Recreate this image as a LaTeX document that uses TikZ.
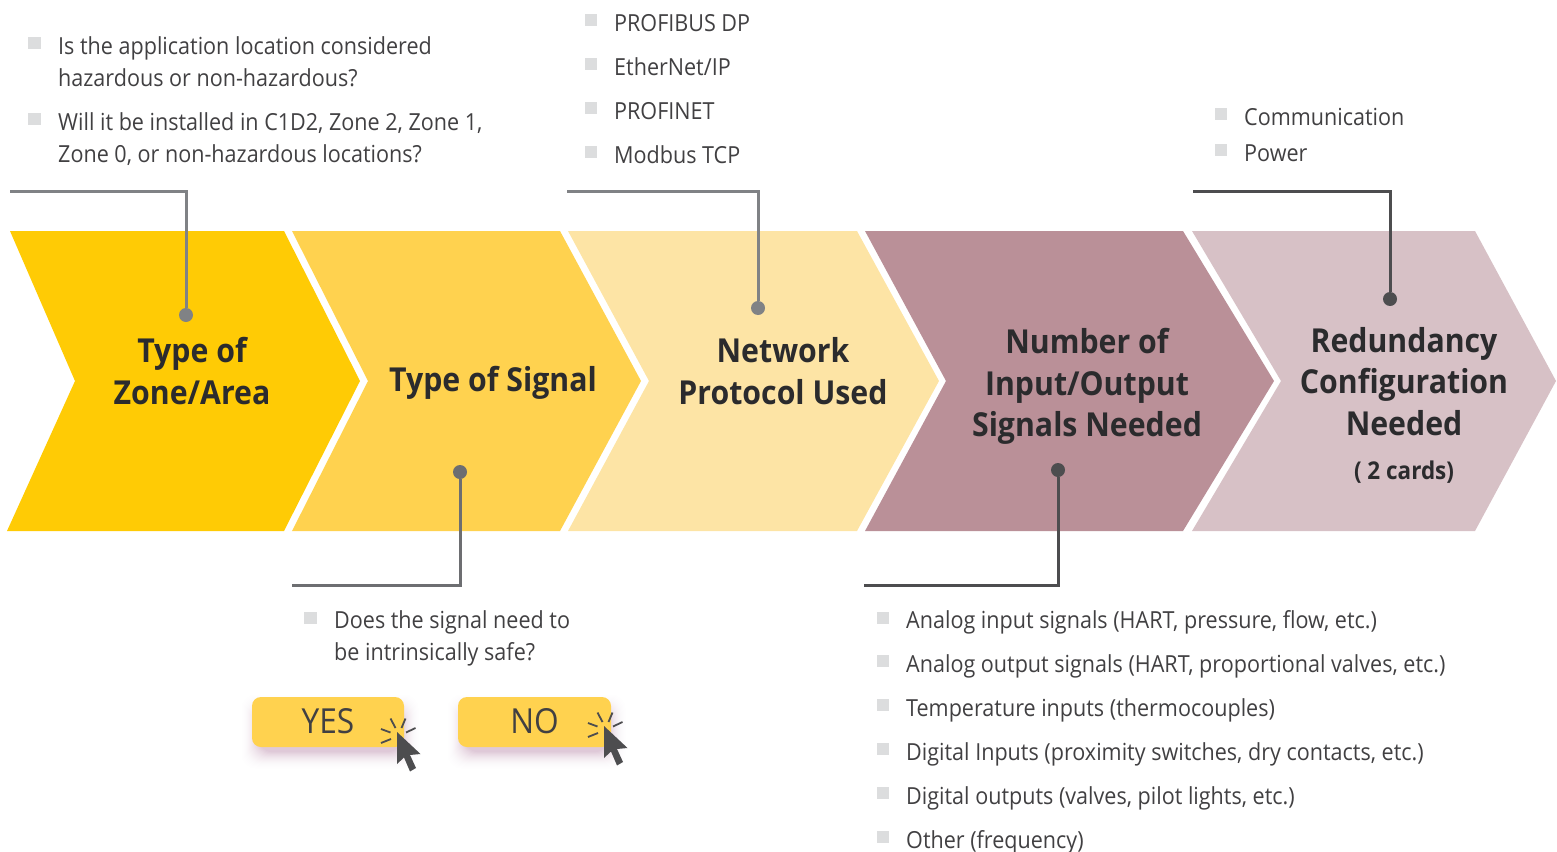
\documentclass[tikz,border=0pt]{standalone}
\usepackage{fontspec}
\setmainfont[FakeStretch=0.917]{Open Sans}
\definecolor{cA}{HTML}{FFCB05}
\definecolor{cB}{HTML}{FFD24F}
\definecolor{cC}{HTML}{FDE4A5}
\definecolor{cD}{HTML}{BA9098}
\definecolor{cE}{HTML}{D7C1C6}
\definecolor{lineA}{HTML}{808285}
\definecolor{lineB}{HTML}{6D6E71}
\definecolor{lineC}{HTML}{4D4D4F}
\definecolor{ink}{HTML}{414042}
\definecolor{title}{HTML}{2B2B2D}
\definecolor{bul}{HTML}{DCDDDE}
\definecolor{shade}{HTML}{DFC9D8}
\tikzset{
 x=1pt,y=-1pt,
 item/.style={anchor=base west,inner sep=0pt,text=ink,font=\fontsize{23.5}{28}\selectfont},
 ttl/.style={anchor=base,inner sep=0pt,text=title,font=\fontsize{33}{36}\selectfont\bfseries},
 bulletbox/.style={fill=bul,draw=none,minimum size=12.5pt,inner sep=0pt,anchor=center},
 dotmark/.style={circle,inner sep=0pt,minimum size=14pt},
 leader/.style={line width=3pt,line join=miter},
 btn/.style={fill=cB,rounded corners=9pt,draw=none},
 btntext/.style={anchor=base,inner sep=0pt,text=ink,font=\fontsize{34.5}{36}\selectfont},
 ray/.style={draw=lineC,line width=1.8pt},
}
\newcommand{\clickat}[2]{%
 \begin{scope}[shift={(#1,#2)}]
  \fill[lineC] (0,0) -- (23.5,22) -- (13,23) -- (19,36) -- (13,39.5) -- (7,25.5) -- (0,32) -- cycle;
  \draw[ray] (-6.5,-13.5) -- (-1.5,-4);
  \draw[ray] (8.5,-13.5) -- (4.5,-4);
  \draw[ray] (-16,-3) -- (-6.5,0.5);
  \draw[ray] (18.5,-4) -- (9,0.5);
  \draw[ray] (-16,11) -- (-6,7);
 \end{scope}}
\newcommand{\softshadow}[4]{%
 \foreach \g in {18,17,...,0}{
  \pgfmathsetmacro{\mixp}{100*(1-\g/18)*(1-\g/18)}
  \fill[shade!\mixp!white,rounded corners=14pt] (#1+6-\g,#2+14-\g) rectangle (#3-2+\g,#4+5+\g);
 }}
\begin{document}
\begin{tikzpicture}
\useasboundingbox (0,0) rectangle (1557,851);
% chevrons
\fill[cA] (10,231) -- (284,231) -- (360,381) -- (284,531) -- (7,531) -- (75,381) -- cycle;
\fill[cB] (292,231) -- (560,231) -- (641,381) -- (560,531) -- (292,531) -- (368,381) -- cycle;
\fill[cC] (568,231) -- (857,231) -- (939,381) -- (857,531) -- (568,531) -- (649,381) -- cycle;
\fill[cD] (865,231) -- (1183,231) -- (1274,381) -- (1183,531) -- (865,531) -- (946,381) -- cycle;
\fill[cE] (1192,231) -- (1475,231) -- (1556,381) -- (1475,531) -- (1192,531) -- (1281,381) -- cycle;
% titles
\node[ttl] (t1a) at (192,362) {Type of};
\node[ttl] (t1b) at (192,404) {Zone/Area};
\node[ttl] (t2) at (493,391) {Type of Signal};
\node[ttl] (t3a) at (783,362) {Network};
\node[ttl] (t3b) at (783,404) {Protocol Used};
\node[ttl] (t4a) at (1087,353) {Number of};
\node[ttl] (t4b) at (1087,395) {Input/Output};
\node[ttl] (t4c) at (1087,436) {Signals Needed};
\node[ttl] (t5a) at (1404,352) {Redundancy};
\node[ttl] (t5b) at (1404,393) {Configuration};
\node[ttl] (t5c) at (1404,435) {Needed};
\node[ttl,font=\fontsize{24.5}{28}\selectfont\bfseries] (t5d) at (1404,479) {( 2 cards)};
% leaders
\coordinate (l1) at (10,191); \coordinate (l2) at (292,585); \coordinate (l3) at (567,191);
\coordinate (l4) at (864,585); \coordinate (l5) at (1193,191);
\node[dotmark,fill=lineA] (d1) at (186,315) {};
\node[dotmark,fill=lineB] (d2) at (460,472) {};
\node[dotmark,fill=lineA] (d3) at (758,308) {};
\node[dotmark,fill=lineC] (d4) at (1058,470) {};
\node[dotmark,fill=lineC] (d5) at (1390,299) {};
\draw[leader,lineA] (l1) -| (d1);
\draw[leader,lineB] (l2) -| (d2);
\draw[leader,lineA] (l3) -| (d3);
\draw[leader,lineC] (l4) -| (d4);
\draw[leader,lineC] (l5) -| (d5);
% list 1
\node[bulletbox] (b1) at (34.5,43) {};
\node[bulletbox] (b2) at (34.5,119) {};
\node[item] (a1) at (58,55) {Is the application location considered};
\node[item] (a2) at (58,86) {hazardous or non-hazardous?};
\node[item] (a3) at (58,130.5) {Will it be installed in C1D2, Zone 2, Zone 1,};
\node[item] (a4) at (58,162) {Zone 0, or non-hazardous locations?};
% list 3
\node[bulletbox] (b3) at (591,20) {};
\node[bulletbox] (b4) at (591,64) {};
\node[bulletbox] (b5) at (591,108) {};
\node[bulletbox] (b6) at (591,152) {};
\node[item] (c1) at (614,32) {PROFIBUS DP};
\node[item] (c2) at (614,75) {EtherNet/IP};
\node[item] (c3) at (614,119) {PROFINET};
\node[item] (c4) at (614,163) {Modbus TCP};
% list 5
\node[bulletbox] (b7) at (1221,114) {};
\node[bulletbox] (b8) at (1221,150) {};
\node[item] (e1) at (1244,125) {Communication};
\node[item] (e2) at (1244,161) {Power};
% list 2
\node[bulletbox] (b9) at (310.5,618) {};
\node[item] (f1) at (334,628) {Does the signal need to};
\node[item] (f2) at (334,660.5) {be intrinsically safe?};
% list 4
\node[bulletbox] (g1) at (883,618) {};
\node[bulletbox] (g2) at (883,661) {};
\node[bulletbox] (g3) at (883,705) {};
\node[bulletbox] (g4) at (883,749) {};
\node[bulletbox] (g5) at (883,793) {};
\node[bulletbox] (g6) at (883,837) {};
\node[item] (h1) at (906,628) {Analog input signals (HART, pressure, flow, etc.)};
\node[item] (h2) at (906,672) {Analog output signals (HART, proportional valves, etc.)};
\node[item] (h3) at (906,716) {Temperature inputs (thermocouples)};
\node[item] (h4) at (906,760) {Digital Inputs (proximity switches, dry contacts, etc.)};
\node[item] (h5) at (906,804) {Digital outputs (valves, pilot lights, etc.)};
\node[item] (h6) at (906,848) {Other (frequency)};
% buttons
\softshadow{252}{697}{404}{747}
\softshadow{458}{697}{611}{747}
\fill[btn] (252,697) rectangle (404,747);
\fill[btn] (458,697) rectangle (611,747);
\node[btntext] (yes) at (328,733.5) {YES};
\node[btntext] (no) at (534.5,733.5) {NO};
\clickat{397}{732}
\clickat{604}{726}
\end{tikzpicture}
\end{document}
